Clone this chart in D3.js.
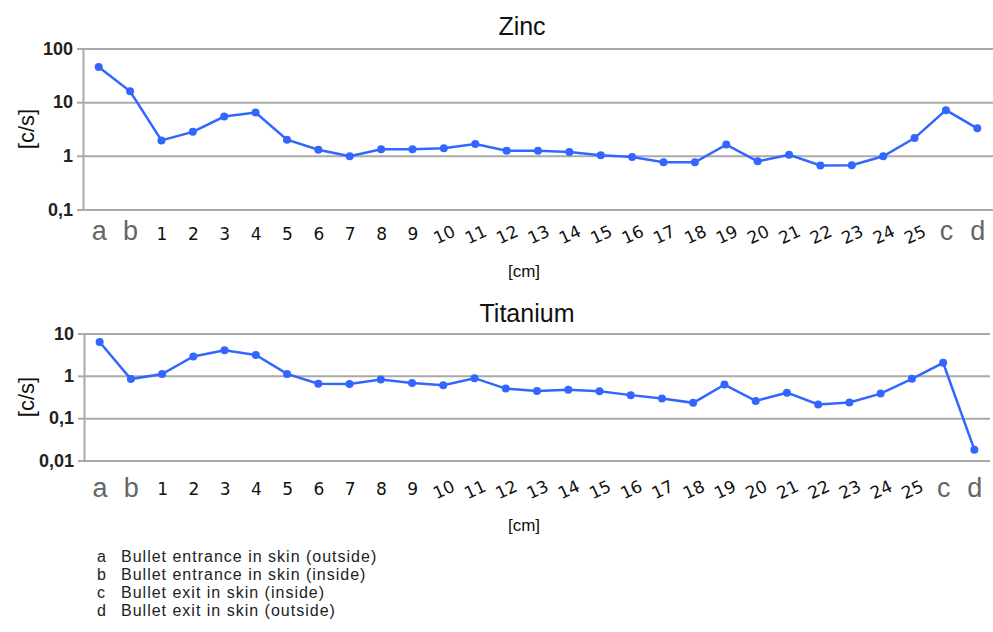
<!DOCTYPE html>
<html>
<head>
<meta charset="utf-8">
<script src="https://cdn.jsdelivr.net/npm/d3@7"></script>
<style>
  body { margin: 0; background: #fff; }
  svg { display: block; font-family: "Liberation Sans", Arial, sans-serif; }
</style>
</head>
<body>
<div id="chart"></div>
<script>
// positions along the track: skin points a,b,c,d and 1..25 cm
const categories = ["a", "b", "1", "2", "3", "4", "5", "6", "7", "8", "9", "10",
  "11", "12", "13", "14", "15", "16", "17", "18", "19", "20",
  "21", "22", "23", "24", "25", "c", "d"];

const zincValues = [45, 15.9, 1.94, 2.8, 5.4, 6.4, 2.0, 1.3, 0.98, 1.32, 1.32, 1.38,
  1.66, 1.25, 1.24, 1.18, 1.03, 0.95, 0.76, 0.76, 1.62, 0.79,
  1.05, 0.66, 0.67, 0.98, 2.14, 7.1, 3.25];

const titaniumValues = [6.3, 0.84, 1.1, 2.86, 4.0, 3.1, 1.11, 0.65, 0.64, 0.82, 0.68, 0.60,
  0.88, 0.50, 0.44, 0.47, 0.43, 0.35, 0.29, 0.23, 0.62, 0.256,
  0.40, 0.21, 0.235, 0.38, 0.85, 2.03, 0.018];

const zincTicks = [0.1, 1, 10, 100];
const zincTickLabels = ["0,1", "1", "10", "100"];
const titaniumTicks = [0.01, 0.1, 1, 10];
const titaniumTickLabels = ["0,01", "0,1", "1", "10"];

const legendKeys = ["a", "b", "c", "d"];
const legendTexts = ["Bullet entrance in skin (outside)", "Bullet entrance in skin (inside)",
  "Bullet exit in skin (inside)", "Bullet exit in skin (outside)"];

const lineColor = "#3366ff";
const gridColor = "#aaaaaa";

const svg = d3.select("#chart").append("svg")
  .attr("width", 993)
  .attr("height", 632);

function drawPanel(cfg) {
  let g = svg.append("g");

  let x = d3.scalePoint().domain(categories).range([cfg.left, cfg.right]).padding(0.5);
  let y = d3.scaleLog().domain(cfg.domain).range([cfg.bottom, cfg.top]);

  // gridlines
  let grid = g.append("g")
    .attr("transform", "translate(" + cfg.left + ",0)")
    .call(d3.axisLeft(y).tickValues(cfg.ticks).tickSize(-(cfg.right - cfg.left)).tickFormat(""));
  grid.select(".domain").remove();
  grid.selectAll("line").attr("stroke", gridColor).attr("stroke-width", 2);

  // y axis with small outer ticks and labels
  let labelMap = {};
  cfg.ticks.forEach((t, i) => labelMap[t] = cfg.tickLabels[i]);
  let yAxis = g.append("g")
    .attr("transform", "translate(" + cfg.left + ",0)")
    .call(d3.axisLeft(y).tickValues(cfg.ticks).tickSize(6).tickPadding(4)
      .tickFormat(d => labelMap[d]));
  yAxis.select(".domain").attr("stroke", gridColor).attr("stroke-width", 2);
  yAxis.selectAll("line").attr("stroke", gridColor).attr("stroke-width", 2);
  yAxis.selectAll("text")
    .attr("font-size", 18)
    .attr("font-weight", "bold")
    .attr("fill", "#222")
    .attr("font-family", "'Liberation Sans', Arial, sans-serif");

  // x axis labels
  let xAxis = g.append("g")
    .attr("transform", "translate(0," + cfg.bottom + ")")
    .call(d3.axisBottom(x).tickSize(0));
  xAxis.select(".domain").remove();
  xAxis.selectAll("text").each(function(d) {
    let t = d3.select(this);
    if (isNaN(+d)) {
      t.attr("y", cfg.letterOffset).attr("dy", 0)
        .attr("font-size", 27)
        .attr("fill", "#666")
        .attr("font-family", "'Liberation Sans', Arial, sans-serif");
    } else {
      let angle = d.length > 1 ? -25 : 0;
      t.attr("y", cfg.numberOffset).attr("dy", "0.35em")
        .attr("font-size", 17)
        .attr("fill", "#111")
        .attr("font-family", "'DejaVu Sans', sans-serif")
        .attr("transform", "rotate(" + angle + ",0," + cfg.numberOffset + ")");
    }
  });

  // line + markers
  let line = d3.line()
    .x((d, i) => x(categories[i]))
    .y(d => y(d));

  g.append("path")
    .datum(cfg.values)
    .attr("d", line)
    .attr("fill", "none")
    .attr("stroke", lineColor)
    .attr("stroke-width", 2.5);

  g.selectAll(".dot")
    .data(cfg.values)
    .enter().append("circle")
    .attr("class", "dot")
    .attr("cx", (d, i) => x(categories[i]))
    .attr("cy", d => y(d))
    .attr("r", 4)
    .attr("fill", lineColor);

  // titles
  g.append("text")
    .attr("x", cfg.titleX)
    .attr("y", cfg.titleY)
    .attr("text-anchor", "middle")
    .attr("font-size", 25)
    .attr("fill", "#111")
    .text(cfg.title);

  g.append("text")
    .attr("transform", "translate(34," + ((cfg.top + cfg.bottom) / 2) + ") rotate(-90)")
    .attr("text-anchor", "middle")
    .attr("font-size", 22)
    .attr("fill", "#111")
    .text("[c/s]");

  g.append("text")
    .attr("x", 524)
    .attr("y", cfg.cmY)
    .attr("text-anchor", "middle")
    .attr("font-size", 17)
    .attr("fill", "#111")
    .text("[cm]");
}

drawPanel({
  title: "Zinc", titleX: 522, titleY: 35,
  values: zincValues, domain: [0.1, 100],
  ticks: zincTicks, tickLabels: zincTickLabels,
  left: 83, right: 993, top: 48.5, bottom: 209.5,
  letterOffset: 30.5, numberOffset: 25, cmY: 277
});

drawPanel({
  title: "Titanium", titleX: 527, titleY: 321.5,
  values: titaniumValues, domain: [0.01, 10],
  ticks: titaniumTicks, tickLabels: titaniumTickLabels,
  left: 84, right: 990, top: 333.5, bottom: 460.5,
  letterOffset: 36, numberOffset: 29, cmY: 531
});

// legend for the letter positions
let legend = svg.append("g")
  .attr("font-size", 16)
  .attr("fill", "#222");
legendKeys.forEach((k, i) => {
  let yy = 562 + i * 18;
  legend.append("text").attr("x", 97).attr("y", yy).text(k);
  legend.append("text").attr("x", 121).attr("y", yy)
    .attr("letter-spacing", 1)
    .text(legendTexts[i]);
});
</script>
</body>
</html>
